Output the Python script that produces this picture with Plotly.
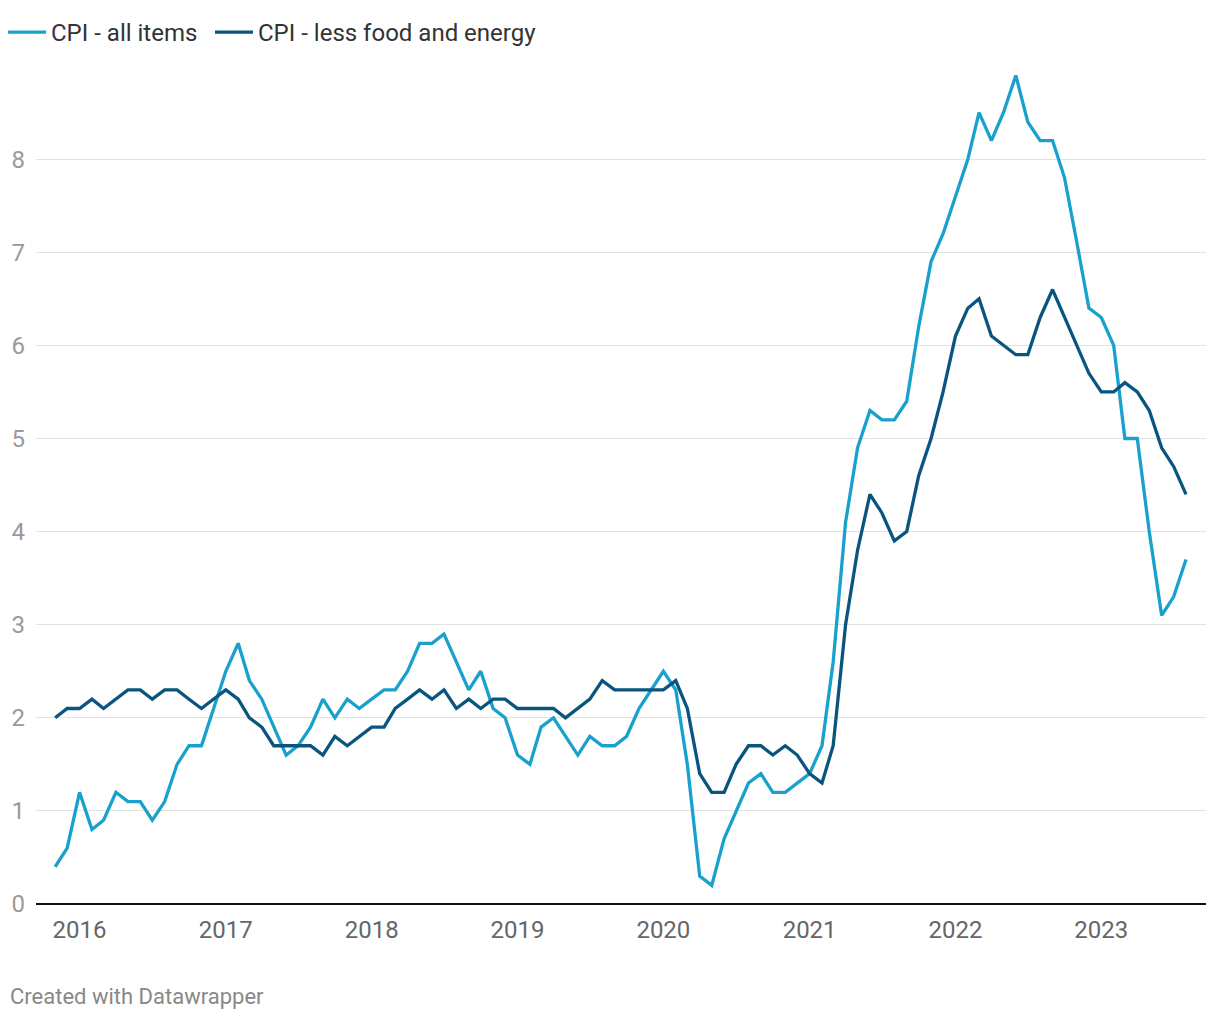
import plotly.graph_objects as go
import pandas as pd

months = pd.date_range("2015-11-01", "2023-08-01", freq="MS")

cpi_all = [0.4, 0.6, 1.2, 0.8, 0.9, 1.2, 1.1, 1.1, 0.9, 1.1, 1.5, 1.7, 1.7, 2.1, 2.5, 2.8,
           2.4, 2.2, 1.9, 1.6, 1.7, 1.9, 2.2, 2.0, 2.2, 2.1, 2.2, 2.3, 2.3, 2.5, 2.8, 2.8,
           2.9, 2.6, 2.3, 2.5, 2.1, 2.0, 1.6, 1.5, 1.9, 2.0, 1.8, 1.6, 1.8, 1.7, 1.7, 1.8,
           2.1, 2.3, 2.5, 2.3, 1.5, 0.3, 0.2, 0.7, 1.0, 1.3, 1.4, 1.2, 1.2, 1.3, 1.4, 1.7,
           2.6, 4.1, 4.9, 5.3, 5.2, 5.2, 5.4, 6.2, 6.9, 7.2, 7.6, 8.0, 8.5, 8.2, 8.5, 8.9,
           8.4, 8.2, 8.2, 7.8, 7.1, 6.4, 6.3, 6.0, 5.0, 5.0, 4.0, 3.1, 3.3, 3.7]

cpi_core = [2.0, 2.1, 2.1, 2.2, 2.1, 2.2, 2.3, 2.3, 2.2, 2.3, 2.3, 2.2, 2.1, 2.2, 2.3, 2.2,
            2.0, 1.9, 1.7, 1.7, 1.7, 1.7, 1.6, 1.8, 1.7, 1.8, 1.9, 1.9, 2.1, 2.2, 2.3, 2.2,
            2.3, 2.1, 2.2, 2.1, 2.2, 2.2, 2.1, 2.1, 2.1, 2.1, 2.0, 2.1, 2.2, 2.4, 2.3, 2.3,
            2.3, 2.3, 2.3, 2.4, 2.1, 1.4, 1.2, 1.2, 1.5, 1.7, 1.7, 1.6, 1.7, 1.6, 1.4, 1.3,
            1.7, 3.0, 3.8, 4.4, 4.2, 3.9, 4.0, 4.6, 5.0, 5.5, 6.1, 6.4, 6.5, 6.1, 6.0, 5.9,
            5.9, 6.3, 6.6, 6.3, 6.0, 5.7, 5.5, 5.5, 5.6, 5.5, 5.3, 4.9, 4.7, 4.4]

year_ticks = ["2016-01-01", "2017-01-01", "2018-01-01", "2019-01-01",
              "2020-01-01", "2021-01-01", "2022-01-01", "2023-01-01"]
year_labels = ["2016", "2017", "2018", "2019", "2020", "2021", "2022", "2023"]
y_ticks = [0, 1, 2, 3, 4, 5, 6, 7, 8]

PW, PH = 1170, 856

fig = go.Figure()
fig.add_trace(go.Scatter(x=months, y=cpi_all, mode="lines", name="CPI - all items",
                         line=dict(color="#18a1cd", width=3.3), legend="legend"))
fig.add_trace(go.Scatter(x=months, y=cpi_core, mode="lines", name="CPI - less food and energy",
                         line=dict(color="#09557f", width=3.3), legend="legend2"))

legend_common = dict(orientation="h", xanchor="left", y=1 + 15.5 / PH, yanchor="middle",
                     font=dict(size=24, color="#333333"), itemwidth=38,
                     bgcolor="rgba(0,0,0,0)")

fig.update_layout(
    width=1204, height=1004,
    paper_bgcolor="white", plot_bgcolor="white",
    margin=dict(l=28, r=6, t=40, b=108, autoexpand=False),
    font=dict(family="Roboto", size=22, color="#333333"),
    showlegend=True,
    legend=dict(x=-33 / PW, **legend_common),
    legend2=dict(x=174 / PW, **legend_common),
    xaxis=dict(range=["2015-09-14", "2023-09-20"], tickvals=year_ticks, ticktext=year_labels,
               showgrid=False, showline=False, zeroline=False, ticks="", automargin=False,
               tickfont=dict(size=24, color="#666666"), ticklabelstandoff=9),
    yaxis=dict(range=[0, PH / 93.1], tickvals=y_ticks, showgrid=True, gridcolor="#e2e2e2",
               gridwidth=1, zeroline=True, zerolinecolor="#111111", zerolinewidth=2,
               showline=False, ticks="", automargin=False,
               tickfont=dict(size=24, color="#9a9a9a"), ticklabelstandoff=10),
    annotations=[dict(text="Created with Datawrapper", xref="paper", yref="paper",
                      x=-28 / PW, xanchor="left", y=-93 / PH, yanchor="middle",
                      showarrow=False, font=dict(size=22, color="#888888"))],
)

fig.write_html("out.html")
